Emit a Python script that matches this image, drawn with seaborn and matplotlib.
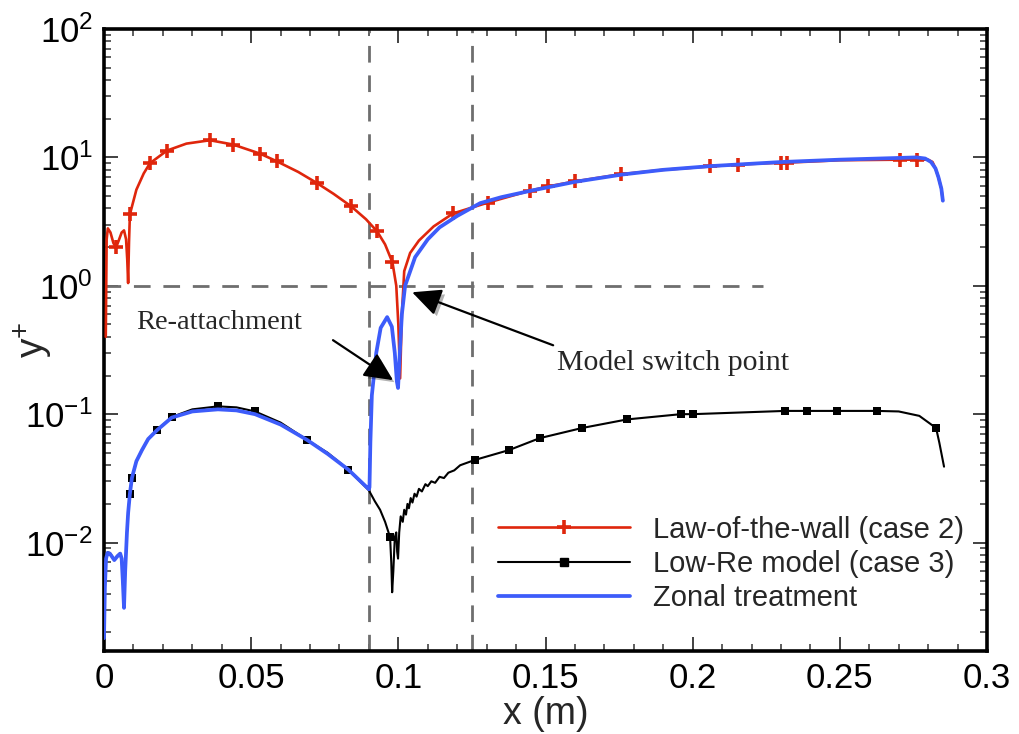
import numpy as np
import pandas as pd
import matplotlib
matplotlib.use("Agg")
import matplotlib.pyplot as plt
import matplotlib.ticker as mticker
import matplotlib.patheffects as pe
from matplotlib.lines import Line2D
import seaborn as sns

# ---------------- data ----------------
# Law-of-the-wall (case 2): wall-normal y+ along the wall
law_x = [0.0006, 0.0009, 0.0013, 0.0022, 0.0032, 0.0050, 0.0060, 0.0068, 0.0075,
         0.0079, 0.0082, 0.0085, 0.0110, 0.0135, 0.0280, 0.0660, 0.0780, 0.0890,
         0.0955, 0.0993, 0.1000, 0.1006, 0.1012, 0.1020, 0.1040, 0.1070, 0.1120,
         0.1900, 0.2500, 0.2800, 0.2815, 0.2825, 0.2835, 0.2845, 0.2850]
law_y = [0.40, 2.3, 2.8, 2.6, 2.15, 2.25, 2.6, 2.7, 2.3,
         1.6, 1.05, 2.2, 5.6, 7.5, 12.8, 7.7, 5.2, 3.3,
         2.1, 1.0, 0.5, 0.19, 0.6, 1.3, 1.8, 2.25, 2.9,
         8.0, 9.5, 9.6, 9.2, 8.2, 7.0, 5.7, 4.6]
law_mark_x = [0.0041, 0.0088, 0.0156, 0.0214, 0.0360, 0.0438, 0.0530, 0.0588,
              0.0724, 0.0840, 0.0928, 0.0980, 0.1186, 0.1305, 0.1447, 0.1510,
              0.1600, 0.1757, 0.2060, 0.2154, 0.2300, 0.2320, 0.2705, 0.2762]
law_mark_y = [1.99, 3.6, 9.0, 11.3, 13.6, 12.6, 10.7, 9.3,
              6.3, 4.15, 2.65, 1.52, 3.66, 4.45, 5.5, 5.95,
              6.5, 7.4, 8.5, 8.8, 9.1, 9.1, 9.6, 9.6]

# Low-Re model (case 3)
lowre_x = [0.0000, 0.0003, 0.0007, 0.0012, 0.0020, 0.0035, 0.0045, 0.0055, 0.0060,
           0.0064, 0.0068, 0.0072, 0.0078, 0.0082, 0.0110, 0.0129, 0.0150, 0.0300,
           0.0450, 0.0600, 0.0760, 0.0900, 0.0920, 0.0938, 0.0955, 0.0976, 0.0979,
           0.0983, 0.0988, 0.0993, 0.0996, 0.0999, 0.1003, 0.1008, 0.1015, 0.1020,
           0.1026, 0.1031, 0.1036, 0.1042, 0.1048, 0.1055, 0.1062, 0.1070, 0.1080,
           0.1092, 0.1100, 0.1112, 0.1125, 0.1140, 0.1155, 0.1170, 0.1190, 0.1210,
           0.2700, 0.2770, 0.2838, 0.2854]
lowre_y = [0.0018, 0.0045, 0.0075, 0.0084, 0.0083, 0.0074, 0.0079, 0.0083, 0.0076,
           0.0050, 0.0031, 0.0060, 0.0120, 0.0170, 0.0430, 0.0525, 0.0640, 0.1090,
           0.1130, 0.0860, 0.0500, 0.0255, 0.0210, 0.0180, 0.0145, 0.0070, 0.0041,
           0.0060, 0.0110, 0.0120, 0.0085, 0.0075, 0.0120, 0.0160, 0.0145, 0.0180,
           0.0165, 0.0200, 0.0185, 0.0222, 0.0205, 0.0240, 0.0228, 0.0262, 0.0250,
           0.0285, 0.0275, 0.0300, 0.0292, 0.0325, 0.0318, 0.0350, 0.0365, 0.0400,
           0.1050, 0.0970, 0.0600, 0.0390]
lowre_mark_x = [0.0088, 0.0095, 0.0180, 0.0230, 0.0387, 0.0513, 0.0690, 0.0830,
                0.0972, 0.1260, 0.1376, 0.1480, 0.1624, 0.1777, 0.1960, 0.2000,
                0.2314, 0.2390, 0.2490, 0.2627, 0.2827]
lowre_mark_y = [0.024, 0.032, 0.075, 0.095, 0.115, 0.105, 0.063, 0.037,
                0.011, 0.044, 0.0525, 0.065, 0.078, 0.091, 0.100, 0.100,
                0.106, 0.106, 0.106, 0.106, 0.078]

# Zonal treatment
zonal_x = [0.0000, 0.0003, 0.0007, 0.0012, 0.0020, 0.0035, 0.0045, 0.0055, 0.0060,
           0.0064, 0.0068, 0.0072, 0.0078, 0.0082, 0.0088, 0.0095, 0.0110, 0.0129,
           0.0150, 0.0180, 0.0230, 0.0300, 0.0387, 0.0450, 0.0513, 0.0600, 0.0690,
           0.0760, 0.0830, 0.0900, 0.0902, 0.0905, 0.0910, 0.0925, 0.0940, 0.0962,
           0.0978, 0.0988, 0.0995, 0.0999, 0.1005, 0.1012, 0.1023, 0.1057, 0.1100,
           0.1140, 0.1200, 0.1278, 0.1350, 0.1450, 0.1600, 0.1760, 0.1900, 0.2060,
           0.2300, 0.2500, 0.2700, 0.2760, 0.2790, 0.2810, 0.2825, 0.2835, 0.2845,
           0.2850]
zonal_y = [0.0018, 0.0045, 0.0075, 0.0083, 0.0082, 0.0073, 0.0078, 0.0082, 0.0075,
           0.0050, 0.0031, 0.0060, 0.0120, 0.0170, 0.0240, 0.0320, 0.0430, 0.0525,
           0.0640, 0.0750, 0.0940, 0.1050, 0.1090, 0.1070, 0.1000, 0.0830, 0.0630,
           0.0490, 0.0370, 0.0260, 0.0270, 0.0600, 0.1400, 0.3000, 0.4700, 0.5700,
           0.4800, 0.3000, 0.1800, 0.1600, 0.3000, 0.6000, 1.0000, 1.6700, 2.3000,
           2.8500, 3.5000, 4.4000, 4.9000, 5.5000, 6.4500, 7.3500, 8.0000, 8.5500,
           9.2000, 9.6000, 9.9000, 10.000, 9.8000, 9.2000, 8.2000, 7.0000, 5.7000,
           4.6000]

# reference lines
switch_x = [0.090, 0.125]
unity_y = 1.0
unity_x_end = 0.224

RED = "#DF260C"
BLACK = "#000000"
BLUE = "#3D5CFA"
GRAY = "#6E6E6E"


def merged(xs, ys, mx, my):
    """Line through the curve points together with its marked points."""
    df = pd.DataFrame({"x": list(xs) + list(mx), "y": list(ys) + list(my)})
    return df.sort_values("x", kind="stable").reset_index(drop=True)


law_df = merged(law_x, law_y, law_mark_x, law_mark_y)
lowre_df = merged(lowre_x, lowre_y, lowre_mark_x, lowre_mark_y)
zonal_df = pd.DataFrame({"x": zonal_x, "y": zonal_y})

# ---------------- style ----------------
sns.set_theme(style="ticks")
plt.rcParams["font.family"] = ["Liberation Sans", "DejaVu Sans"]
plt.rcParams["mathtext.fontset"] = "custom"
plt.rcParams["mathtext.rm"] = "Liberation Sans"
plt.rcParams["mathtext.it"] = "Liberation Sans:italic"
plt.rcParams["mathtext.default"] = "regular"

fig = plt.figure(figsize=(10.19, 7.34), dpi=100)
ax = fig.add_axes([0.10206, 0.11308, 0.86654, 0.84741])

# dashed guide lines
dash = dict(color=GRAY, lw=2.0, dashes=(6.0, 4.6), zorder=1)
for xv in switch_x:
    ax.axvline(xv, **dash)
ax.plot([0.0, unity_x_end], [unity_y, unity_y], **dash)

# curves
sns.lineplot(data=law_df, x="x", y="y", sort=False, estimator=None,
             color=RED, lw=1.9, ax=ax, zorder=3)
sns.lineplot(data=lowre_df, x="x", y="y", sort=False, estimator=None,
             color=BLACK, lw=1.5, ax=ax, zorder=3)
sns.scatterplot(x=law_mark_x, y=law_mark_y, marker="+", s=95, color=RED,
                linewidth=2.6, ax=ax, zorder=4)
sns.scatterplot(x=lowre_mark_x, y=lowre_mark_y, marker="s", s=38, color=BLACK,
                edgecolor=BLACK, linewidth=0, ax=ax, zorder=4)
sns.lineplot(data=zonal_df, x="x", y="y", sort=False, estimator=None,
             color=BLUE, lw=2.7, ax=ax, zorder=5)

# axes
ax.set_yscale("log")
ax.set_xlim(0, 0.3)
ax.set_ylim(1.43e-3, 100)
ax.xaxis.set_major_locator(mticker.MultipleLocator(0.05))
ax.xaxis.set_minor_locator(mticker.MultipleLocator(0.01))
ax.xaxis.set_major_formatter(mticker.FuncFormatter(lambda v, p: f"{v:g}"))
ax.yaxis.set_major_locator(mticker.LogLocator(base=10, numticks=12))
ax.yaxis.set_minor_locator(mticker.LogLocator(base=10, subs=np.arange(2, 10), numticks=12))
ax.yaxis.set_major_formatter(mticker.LogFormatterMathtext())
ax.yaxis.set_minor_formatter(mticker.NullFormatter())

ax.tick_params(which="both", direction="in", top=True, right=True, colors="#333333",
               labelcolor="black")
ax.tick_params(which="major", length=10, width=1.3, labelsize=25, pad=8)
ax.tick_params(which="minor", length=5, width=1.1)
for s in ax.spines.values():
    s.set_linewidth(2.6)
    s.set_color("black")

ax.set_xlabel("x (m)", fontsize=27)
ax.xaxis.set_label_coords(0.5, -0.072)
ax.set_ylabel("y$^{+}$", fontsize=28)
ax.yaxis.set_label_coords(-0.055, 0.5)

# annotations
arrow_kw = dict(arrowstyle="-|>,head_length=0.8,head_width=0.38", color="black",
                lw=1.6, mutation_scale=22, shrinkA=0, shrinkB=0,
                path_effects=[pe.SimplePatchShadow(offset=(2.5, -2.5), alpha=0.3),
                              pe.Normal()])
ax.annotate("", xy=(0.0982, 0.184), xytext=(0.0778, 0.377), arrowprops=arrow_kw, zorder=6)
ax.annotate("", xy=(0.1047, 0.89), xytext=(0.1526, 0.344), arrowprops=arrow_kw, zorder=6)
ax.text(0.0109, 0.52, "Re-attachment", fontsize=20.5, family="Liberation Serif",
        ha="left", va="center", zorder=6)
ax.text(0.1539, 0.249, "Model switch point", fontsize=21.5, family="Liberation Serif",
        ha="left", va="center", zorder=6)

# legend
handles = [
    Line2D([], [], color=RED, lw=1.9, marker="+", markersize=10, mew=2.6),
    Line2D([], [], color=BLACK, lw=1.5, marker="s", markersize=6),
    Line2D([], [], color=BLUE, lw=2.7),
]
labels = ["Law-of-the-wall (case 2)", "Low-Re model (case 3)", "Zonal treatment"]
ax.legend(handles, labels, loc="upper left", bbox_to_anchor=(0.489, 0.2975),
          bbox_transform=fig.transFigure, frameon=False, fontsize=21,
          handlelength=4.5, handletextpad=0.8, labelspacing=0.22,
          borderpad=0, borderaxespad=0, numpoints=1)

fig.savefig("out.png", dpi=100)
